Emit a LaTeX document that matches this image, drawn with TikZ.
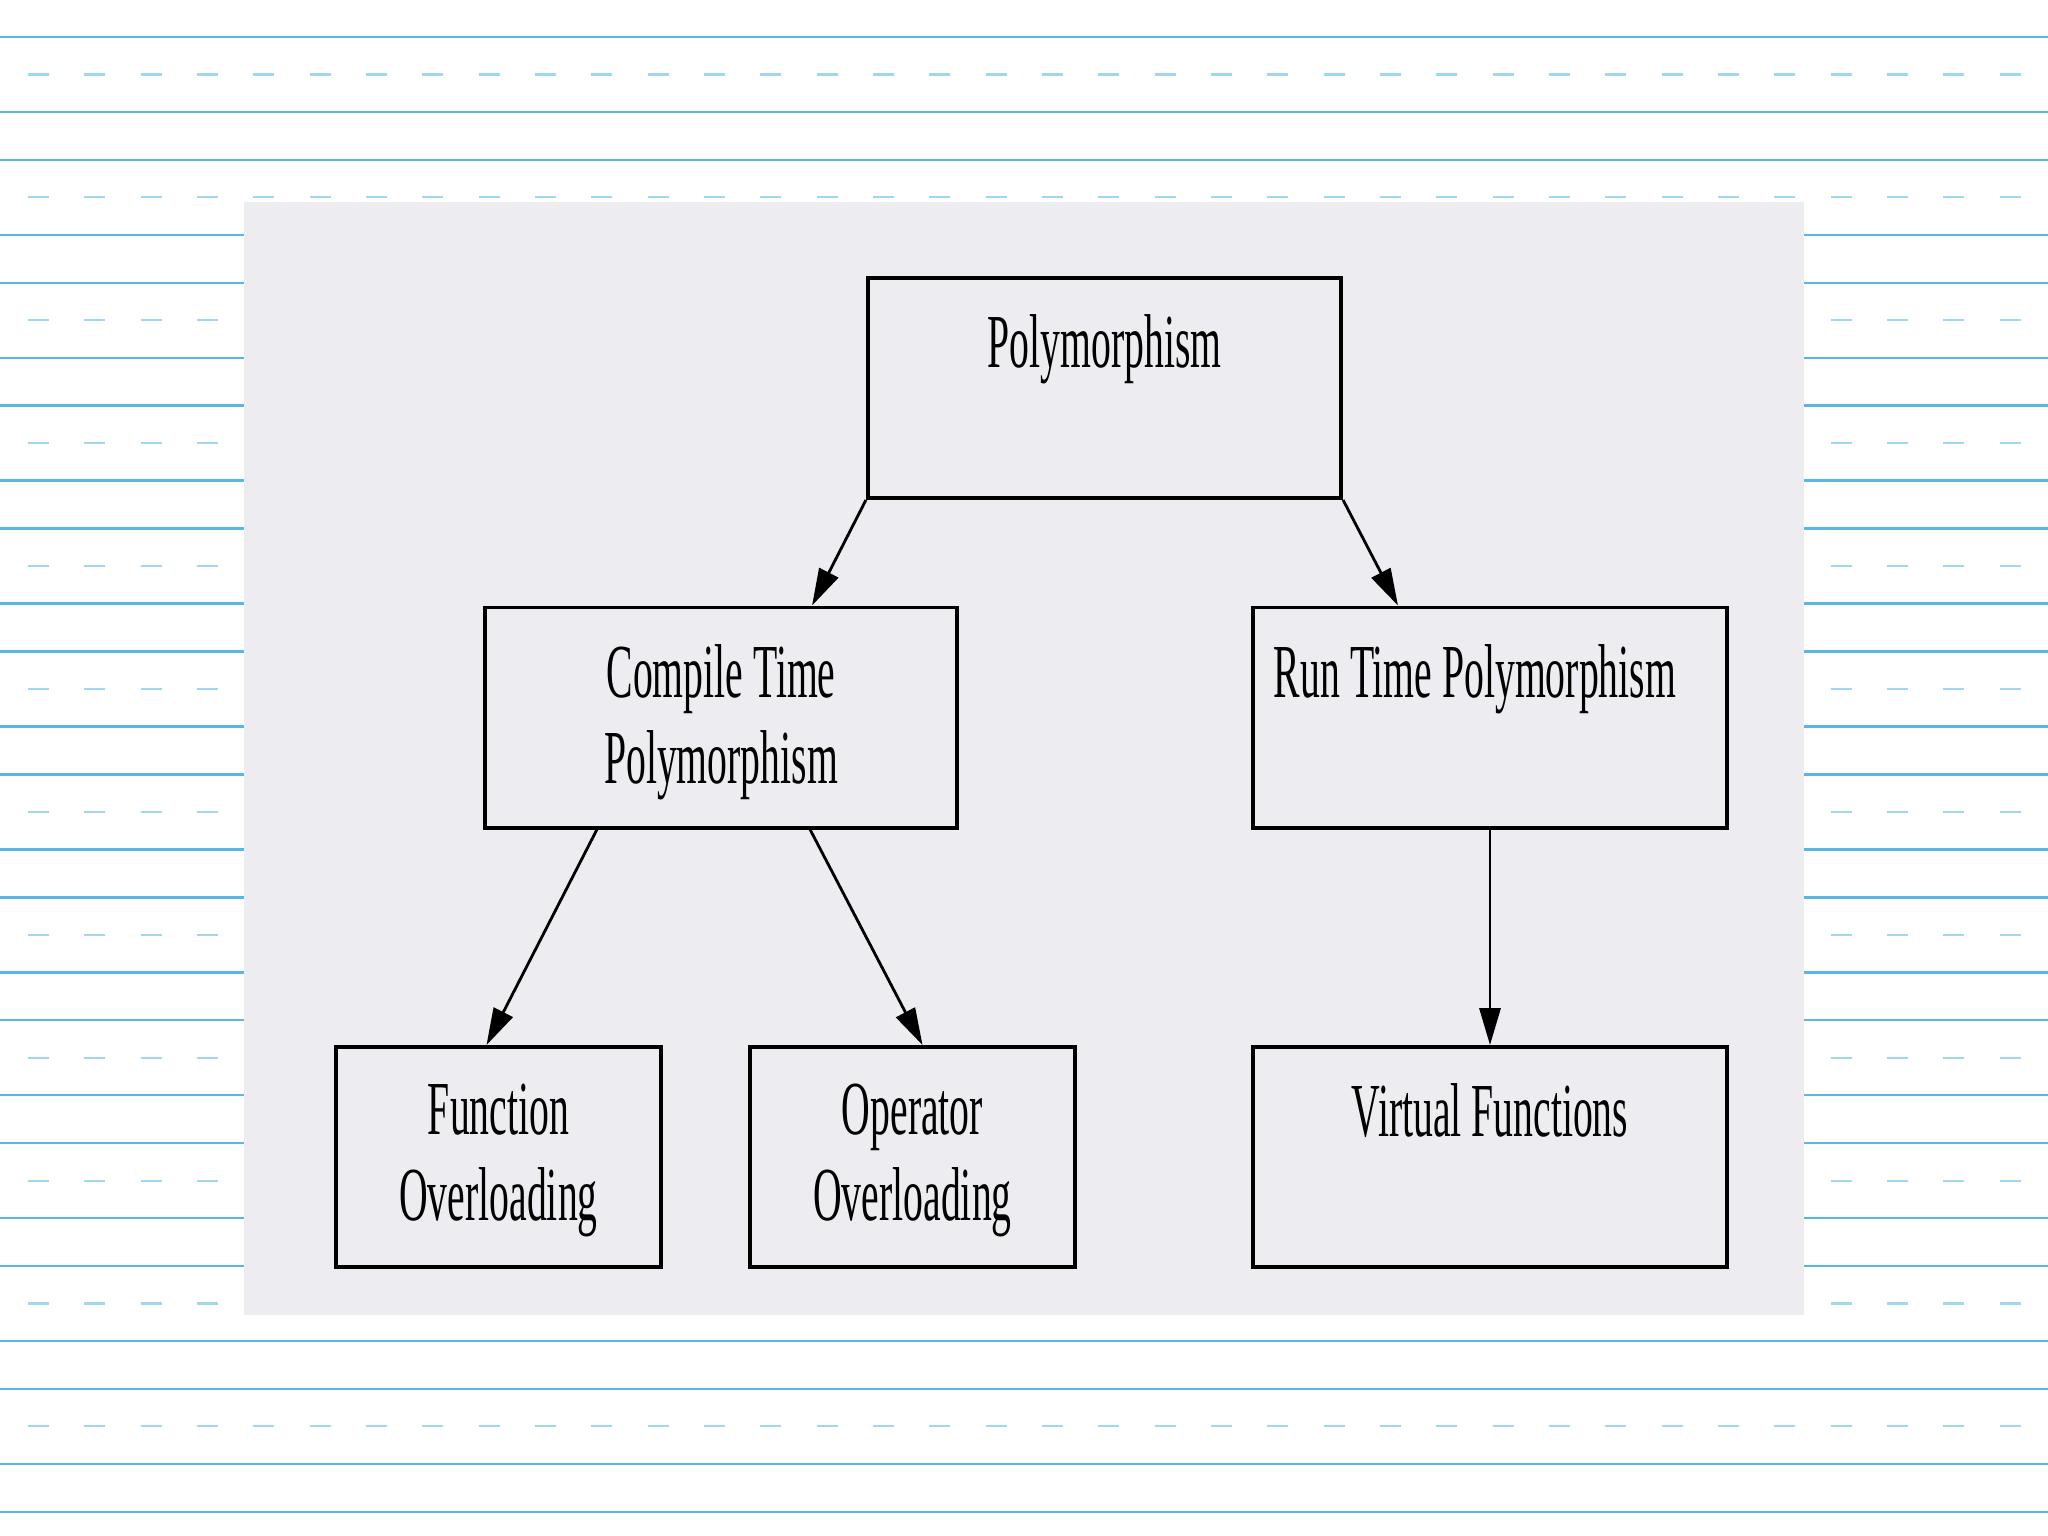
\documentclass[tikz,border=0pt]{standalone}
\usepackage{fontspec}
\newfontfamily\boxfont[FakeStretch=0.52]{Liberation Serif}
\usetikzlibrary{arrows.meta}
\definecolor{paperline}{RGB}{90,182,228}
\definecolor{paperdash}{RGB}{160,215,238}
\definecolor{panel}{RGB}{237,236,240}
\tikzset{
  box/.style={draw, line width=1.1pt, minimum height=2.2cm, inner sep=0pt},
  lbl/.style={anchor=north, yshift=-0.38cm, inner sep=0pt, align=center,
    font=\boxfont\fontsize{21.7pt}{24.5pt}\selectfont},
  link/.style={line width=0.8pt, -{Triangle[length=10.5pt,width=6pt]}}
}
\begin{document}
\begin{tikzpicture}[x=0.01cm, y=-0.01cm]
    \useasboundingbox (0,0) rectangle (2048,1536);
    \fill[white] (0,0) rectangle (2048,1536);
    % ruled paper
    \foreach \k in {0,...,11} {
      \pgfmathsetmacro{\a}{37+122.9*\k}
      \draw[paperline, line width=0.7pt] (0,\a) -- (2048,\a);
      \draw[paperline, line width=0.7pt] (0,\a+75) -- (2048,\a+75);
      \draw[paperdash, line width=0.6pt, dash pattern=on 0.21cm off 0.353cm] (28,\a+37.5) -- (2048,\a+37.5);
    }
    \draw[paperline, line width=0.7pt] (0,1512) -- (2048,1512);
    % panel
    \fill[panel] (244,202) rectangle (1804,1315);
    % boxes
    \node[box, minimum width=4.73cm, label={[lbl]north:Polymorphism}] (poly) at (1104.5,388) {};
    \node[box, minimum width=4.72cm, label={[lbl]north:Compile Time\\Polymorphism}] (compile) at (721,717.5) {};
    \node[box, minimum width=4.74cm, label={[lbl, xshift=-0.15cm]north:Run Time Polymorphism}] (run) at (1490,717.5) {};
    \node[box, minimum width=3.25cm, label={[lbl]north:Function\\Overloading}] (func) at (498.5,1157) {};
    \node[box, minimum width=3.25cm, label={[lbl]north:Operator\\Overloading}] (oper) at (912.5,1157) {};
    \node[box, minimum width=4.74cm, label={[lbl]north:Virtual Functions}] (virt) at (1490,1157) {};
    % links
    \draw[link] (poly.south west) -- ([xshift=0.91cm]compile.north);
    \draw[link] (poly.south east) -- ([xshift=-0.92cm]run.north);
    \draw[link] ([xshift=-1.24cm]compile.south) -- ([xshift=-0.12cm]func.north);
    \draw[link] ([xshift=0.89cm]compile.south) -- ([xshift=0.1cm]oper.north);
    \draw[link] (run.south) -- (virt.north);
\end{tikzpicture}
\end{document}
